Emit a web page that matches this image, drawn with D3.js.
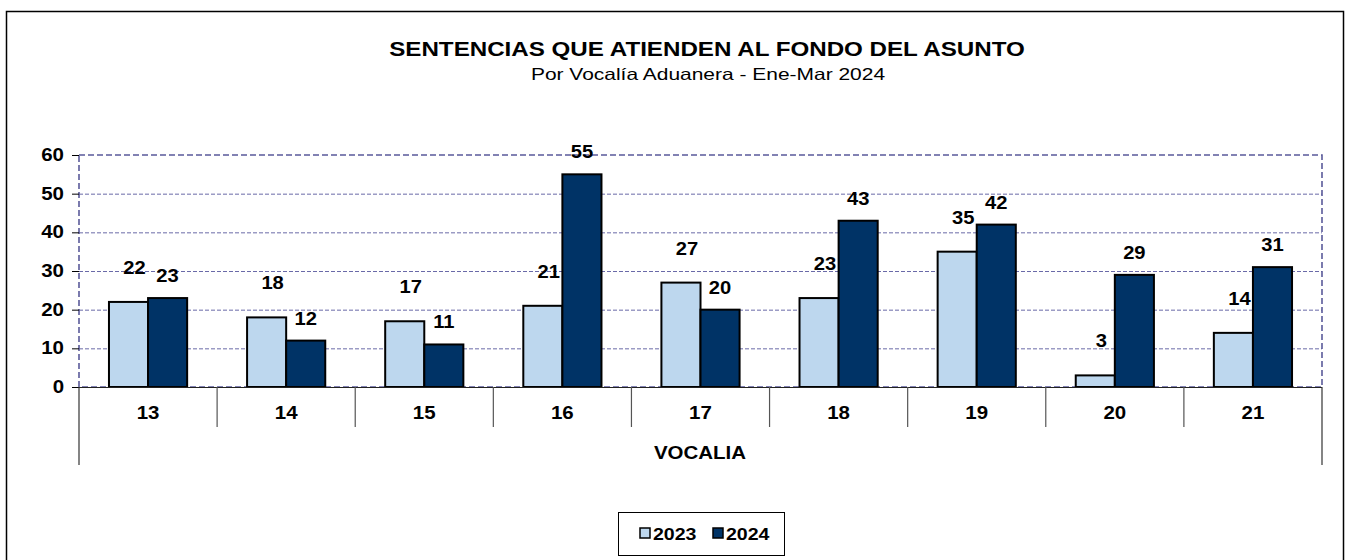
<!DOCTYPE html>
<html><head><meta charset="utf-8">
<script src="https://cdn.jsdelivr.net/npm/d3@7"></script>
<style>body{margin:0;background:#fff}svg{display:block;font-family:"Liberation Sans",Arial,sans-serif}</style>
</head><body><svg id="c" width="1354" height="560"></svg>
<script>
const categories = ["13","14","15","16","17","18","19","20","21"];
const seriesNames = ["2023","2024"];
const values2023 = [22,18,17,21,27,23,35,3,14];
const values2024 = [23,12,11,55,20,43,42,29,31];
const yTicks = [0,10,20,30,40,50,60];
const titleText = "SENTENCIAS QUE ATIENDEN AL FONDO DEL ASUNTO";
const subtitleText = "Por Vocalía Aduanera - Ene-Mar 2024";
const xTitle = "VOCALIA";

const colors = {"2023":"#BDD7EE","2024":"#003366"};
const svg = d3.select("#c");
const L=79,R=1322,T=155,B=387;

function stretch(sel, f){
  sel.each(function(){
    const w = this.getComputedTextLength();
    d3.select(this).attr("textLength", w*f).attr("lengthAdjust","spacingAndGlyphs");
  });
}

svg.append("rect").attr("x",6.5).attr("y",11.5).attr("width",1337).attr("height",600)
  .attr("fill","none").attr("stroke","#000").attr("stroke-width",1.5);

const tt = svg.append("text").attr("x",707).attr("y",56).attr("text-anchor","middle")
  .attr("font-weight","bold").attr("font-size",21).text(titleText);
stretch(tt,1.15);
const st = svg.append("text").attr("x",708).attr("y",80).attr("text-anchor","middle")
  .attr("font-size",16.5).text(subtitleText);
stretch(st,1.27);

const x0 = d3.scaleBand().domain(categories).range([L,R]).padding(0);
const bw = x0.bandwidth();
const x1 = d3.scaleBand().domain(seriesNames).range([bw*0.217,bw*0.783]).padding(0);
const y = d3.scaleLinear().domain([0,60]).range([B,T]);

// gridlines
svg.append("g").selectAll("line").data(yTicks.filter(t=>t>0&&t<60)).join("line")
  .attr("x1",L).attr("x2",R).attr("y1",d=>y(d)+0.5).attr("y2",d=>y(d)+0.5)
  .attr("stroke","#6a6aa8").attr("stroke-width",1).attr("stroke-dasharray","4,2");
// plot border
svg.append("rect").attr("x",L).attr("y",T).attr("width",R-L).attr("height",B-T)
  .attr("fill","none").attr("stroke","#5a5a9a").attr("stroke-width",1.6).attr("stroke-dasharray","6,3");

// y axis
const yAxis = d3.axisLeft(y).tickValues(yTicks).tickSize(7).tickPadding(8);
const ya = svg.append("g").attr("transform",`translate(${L},0)`).call(yAxis);
ya.select(".domain").remove();
ya.selectAll("line").attr("stroke","#000");
ya.selectAll("text").attr("font-size",17.5).attr("font-weight","bold").attr("fill","#000")
  .attr("font-family","'Liberation Sans',Arial,sans-serif");
stretch(ya.selectAll("text"),1.17);

// bars
const data = categories.map((c,i)=>({c,v:[values2023[i],values2024[i]]}));
const g = svg.append("g");
seriesNames.forEach((s,si)=>{
  g.selectAll(".b"+si).data(data).join("rect")
    .attr("x",d=>x0(d.c)+x1(s)).attr("width",x1.bandwidth())
    .attr("y",d=>y(d.v[si])).attr("height",d=>B-y(d.v[si]))
    .attr("fill",colors[s]).attr("stroke","#000").attr("stroke-width",2);
});

// bottom axis line
svg.append("line").attr("x1",L).attr("x2",R).attr("y1",B+0.5).attr("y2",B+0.5)
  .attr("stroke","#222").attr("stroke-width",1);

// category separators
const seps = categories.slice(1).map(c=>x0(c));
svg.append("g").selectAll("line").data(seps).join("line")
  .attr("x1",d=>d).attr("x2",d=>d).attr("y1",B).attr("y2",427)
  .attr("stroke","#555").attr("stroke-width",1.2);
svg.append("g").selectAll("line").data([L,R]).join("line")
  .attr("x1",d=>d).attr("x2",d=>d).attr("y1",B).attr("y2",465)
  .attr("stroke","#333").attr("stroke-width",1.2);

// category labels
const cl = svg.append("g").selectAll("text").data(categories).join("text")
  .attr("x",d=>x0(d)+bw/2).attr("y",418.5).attr("text-anchor","middle")
  .attr("font-size",17.5).attr("font-weight","bold").text(d=>d);
stretch(cl,1.17);
const xt = svg.append("text").attr("x",700).attr("y",458.5).attr("text-anchor","middle")
  .attr("font-size",17.5).attr("font-weight","bold").text(xTitle);
stretch(xt,1.17);

// data labels
const lab = svg.append("g").attr("font-size",18).attr("font-weight","bold").attr("text-anchor","middle");
const l0 = lab.selectAll(".l0").data(data).join("text")
  .attr("x",d=>x0(d.c)+x1("2023")+x1.bandwidth()/2+6)
  .attr("y",d=>y(d.v[0])-28).text(d=>d.v[0]);
const l1 = lab.selectAll(".l1").data(data).join("text")
  .attr("x",d=>x0(d.c)+x1("2024")+x1.bandwidth()/2)
  .attr("y",d=>y(d.v[1])-16).text(d=>d.v[1]);
stretch(l0,1.12); stretch(l1,1.12);

// legend
const lg = svg.append("g");
lg.append("rect").attr("x",618.5).attr("y",512.5).attr("width",166).attr("height",43)
  .attr("fill","#fff").attr("stroke","#000").attr("stroke-width",1);
const lx = [640,713];
seriesNames.forEach((s,i)=>{
  lg.append("rect").attr("x",lx[i]).attr("y",528).attr("width",10).attr("height",10)
    .attr("fill",colors[s]).attr("stroke","#000").attr("stroke-width",1.5);
  const t = lg.append("text").attr("x",lx[i]+13).attr("y",540).attr("font-size",17)
    .attr("font-weight","bold").text(s);
  stretch(t,1.15);
});
</script></body></html>
